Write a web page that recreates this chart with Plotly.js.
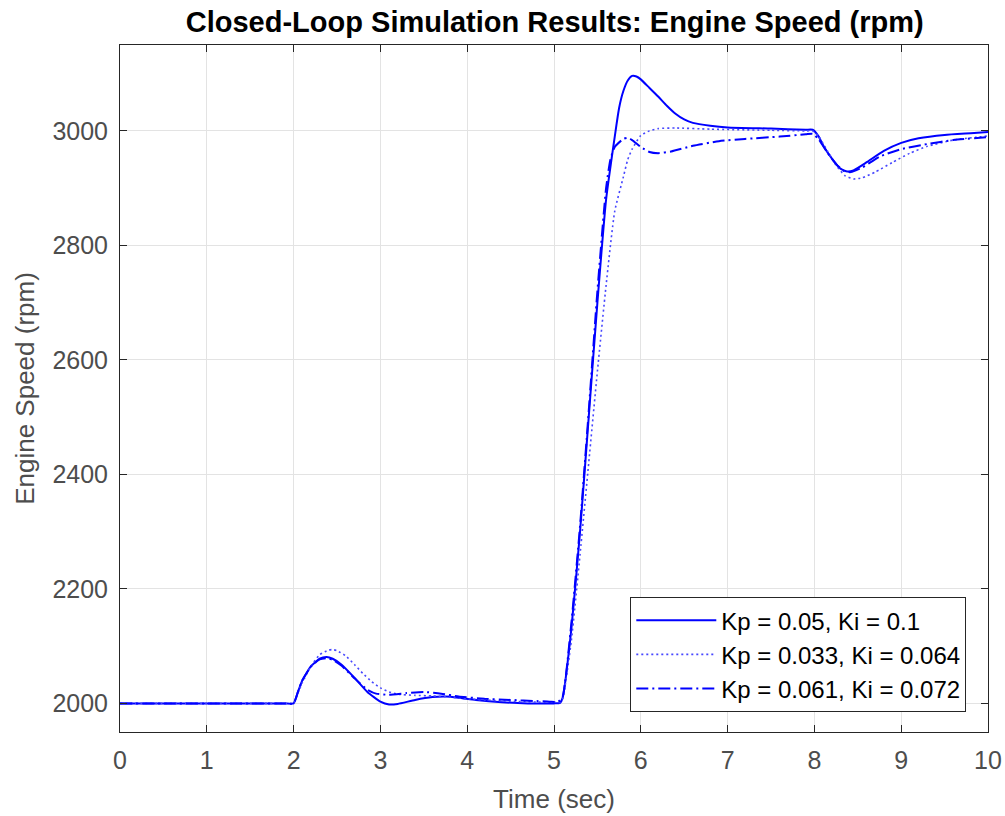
<!DOCTYPE html>
<html>
<head>
<meta charset="utf-8">
<script src="https://cdn.plot.ly/plotly-3.0.1.min.js"></script>
<style>html,body{margin:0;padding:0;background:#fff;}#chart{width:1005px;height:816px;}</style>
</head>
<body>
<div id="chart"></div>
<script>
// Series 1: Kp = 0.05, Ki = 0.1 (solid)
const t1 = [0, 0.5, 1, 1.5, 1.9, 2, 2.05, 2.1, 2.2, 2.3, 2.38, 2.45, 2.55, 2.7, 2.85, 3.0, 3.1, 3.2, 3.4, 3.6, 3.75, 3.9, 4.1, 4.4, 4.7, 4.9, 5.0, 5.07,
  5.1, 5.2, 5.3, 5.4, 5.5, 5.6, 5.7, 5.75, 5.8, 5.85, 5.9, 5.95, 6.0, 6.1, 6.2, 6.3, 6.4, 6.5, 6.6, 6.8, 7.0, 7.5, 7.9, 7.98,
  8.05, 8.1, 8.2, 8.3, 8.38, 8.45, 8.6, 8.8, 9.0, 9.2, 9.5, 9.8, 10];
const v1 = [2000, 2000, 2000, 2000, 2000, 2000, 2020, 2040, 2065, 2078, 2081, 2078, 2068, 2045, 2020, 2003, 1998, 1999, 2006, 2011, 2012, 2010, 2006, 2002, 2000, 2000, 2000, 2001,
  2010, 2130, 2300, 2500, 2700, 2880, 2990, 3040, 3070, 3088, 3096, 3095, 3090, 3075, 3060, 3044, 3030, 3020, 3014, 3009, 3006, 3004, 3002, 3002,
  2990, 2975, 2952, 2934, 2929, 2931, 2945, 2965, 2979, 2987, 2993, 2996, 2998];

// Series 2: Kp = 0.033, Ki = 0.064 (dotted)
const t2 = [0, 0.5, 1, 1.5, 1.9, 2, 2.05, 2.1, 2.2, 2.3, 2.4, 2.45, 2.5, 2.6, 2.7, 2.8, 2.9, 3.0, 3.1, 3.2, 3.4, 3.6, 3.8, 4.0, 4.3, 4.6, 4.9, 5.0, 5.07,
  5.1, 5.2, 5.3, 5.4, 5.5, 5.6, 5.7, 5.8, 5.85, 5.9, 6.0, 6.1, 6.2, 6.4, 6.8, 7.5, 7.9, 7.98,
  8.05, 8.15, 8.25, 8.35, 8.45, 8.55, 8.7, 8.9, 9.1, 9.3, 9.6, 10];
const v2 = [2000, 2000, 2000, 2000, 2000, 2000, 2018, 2036, 2065, 2085, 2093, 2094, 2092, 2083, 2068, 2052, 2038, 2027, 2020, 2016, 2014, 2013, 2011, 2008, 2005, 2003, 2002, 2002, 2002,
  2008, 2110, 2260, 2420, 2580, 2730, 2860, 2920, 2950, 2968, 2992, 3000, 3004, 3005, 3003, 3001, 3000, 3000,
  2990, 2965, 2940, 2922, 2916, 2918, 2928, 2945, 2961, 2973, 2984, 2991];

// Series 3: Kp = 0.061, Ki = 0.072 (dash-dot)
const t3 = [0, 0.5, 1, 1.5, 1.9, 2, 2.05, 2.1, 2.2, 2.3, 2.38, 2.45, 2.55, 2.7, 2.85, 2.95, 3.1, 3.3, 3.5, 3.7, 3.9, 4.2, 4.5, 4.8, 4.95, 5.05,
  5.1, 5.2, 5.3, 5.4, 5.5, 5.6, 5.65, 5.7, 5.8, 5.85, 5.9, 6.0, 6.1, 6.2, 6.35, 6.6, 6.9, 7.2, 7.6, 7.9, 7.98,
  8.05, 8.15, 8.25, 8.35, 8.42, 8.55, 8.75, 9.0, 9.3, 9.6, 10];
const v3 = [2000, 2000, 2000, 2000, 2000, 2000, 2020, 2040, 2064, 2077, 2079, 2076, 2066, 2044, 2024, 2017, 2015, 2018, 2020, 2017, 2012, 2008, 2006, 2004, 2003, 2003,
  2012, 2140, 2310, 2510, 2720, 2900, 2950, 2972, 2986, 2988, 2984, 2972, 2963, 2961, 2964, 2974, 2982, 2986, 2990, 2994, 2995,
  2985, 2962, 2942, 2929, 2928, 2936, 2955, 2968, 2977, 2984, 2989];

const seriesNames = ['Kp = 0.05, Ki = 0.1', 'Kp = 0.033, Ki = 0.064', 'Kp = 0.061, Ki = 0.072'];
const xTicks = [0, 1, 2, 3, 4, 5, 6, 7, 8, 9, 10];
const yTicks = [2000, 2200, 2400, 2600, 2800, 3000];

const blue = 'rgb(0,0,255)';
const traces = [
  {x: t1, y: v1, name: seriesNames[0], mode: 'lines', line: {color: blue, width: 2, dash: 'solid', shape: 'spline', smoothing: 0.5}},
  {x: t2, y: v2, name: seriesNames[1], mode: 'lines', line: {color: 'rgb(70,70,255)', width: 1.6, dash: '2px,3px', shape: 'spline', smoothing: 0.5}},
  {x: t3, y: v3, name: seriesNames[2], mode: 'lines', line: {color: blue, width: 2, dash: '12px,4px,2px,4px', shape: 'spline', smoothing: 0.5}}
];

const FONT = 'Liberation Sans, Arial, Helvetica, sans-serif';
const axisFont = {family: FONT, size: 25, color: '#4d4d4d'};
const layout = {
  width: 1005, height: 816,
  margin: {l: 120, r: 17, t: 45, b: 84},
  paper_bgcolor: '#fff', plot_bgcolor: '#fff',
  showlegend: true,
  title: {text: 'Closed-Loop Simulation Results: Engine Speed (rpm)', x: 0.552, xanchor: 'center', y: 0.973, yanchor: 'middle',
    font: {family: FONT, size: 29, color: '#000', weight: 'bold'}},
  xaxis: {range: [0, 10], tickvals: xTicks, ticktext: xTicks.map(String), ticks: 'inside', ticklen: 7, tickcolor: '#262626',
    showline: true, mirror: 'ticks', linecolor: '#262626', linewidth: 1, showgrid: true, gridcolor: '#e3e3e3', zeroline: false,
    tickfont: axisFont, automargin: false, ticklabelstandoff: 6,
    title: {text: 'Time (sec)', font: {family: FONT, size: 26, color: '#4d4d4d'}, standoff: 16}},
  yaxis: {range: [1950, 3150], tickvals: yTicks, ticktext: yTicks.map(String), ticks: 'inside', ticklen: 7, tickcolor: '#262626',
    showline: true, mirror: 'ticks', linecolor: '#262626', linewidth: 1, showgrid: true, gridcolor: '#e3e3e3', zeroline: false,
    tickfont: axisFont, automargin: false, ticklabelstandoff: 6,
    title: {text: 'Engine Speed (rpm)', font: {family: FONT, size: 26, color: '#4d4d4d'}, standoff: 10}},
  legend: {x: 0.975, y: 0.029, xanchor: 'right', yanchor: 'bottom', bgcolor: '#fff', bordercolor: '#262626', borderwidth: 1,
    font: {family: FONT, size: 24, color: '#000'}, tracegroupgap: 0, itemwidth: 80}
};

Plotly.newPlot('chart', traces, layout, {displayModeBar: false, staticPlot: true});
</script>
</body>
</html>
